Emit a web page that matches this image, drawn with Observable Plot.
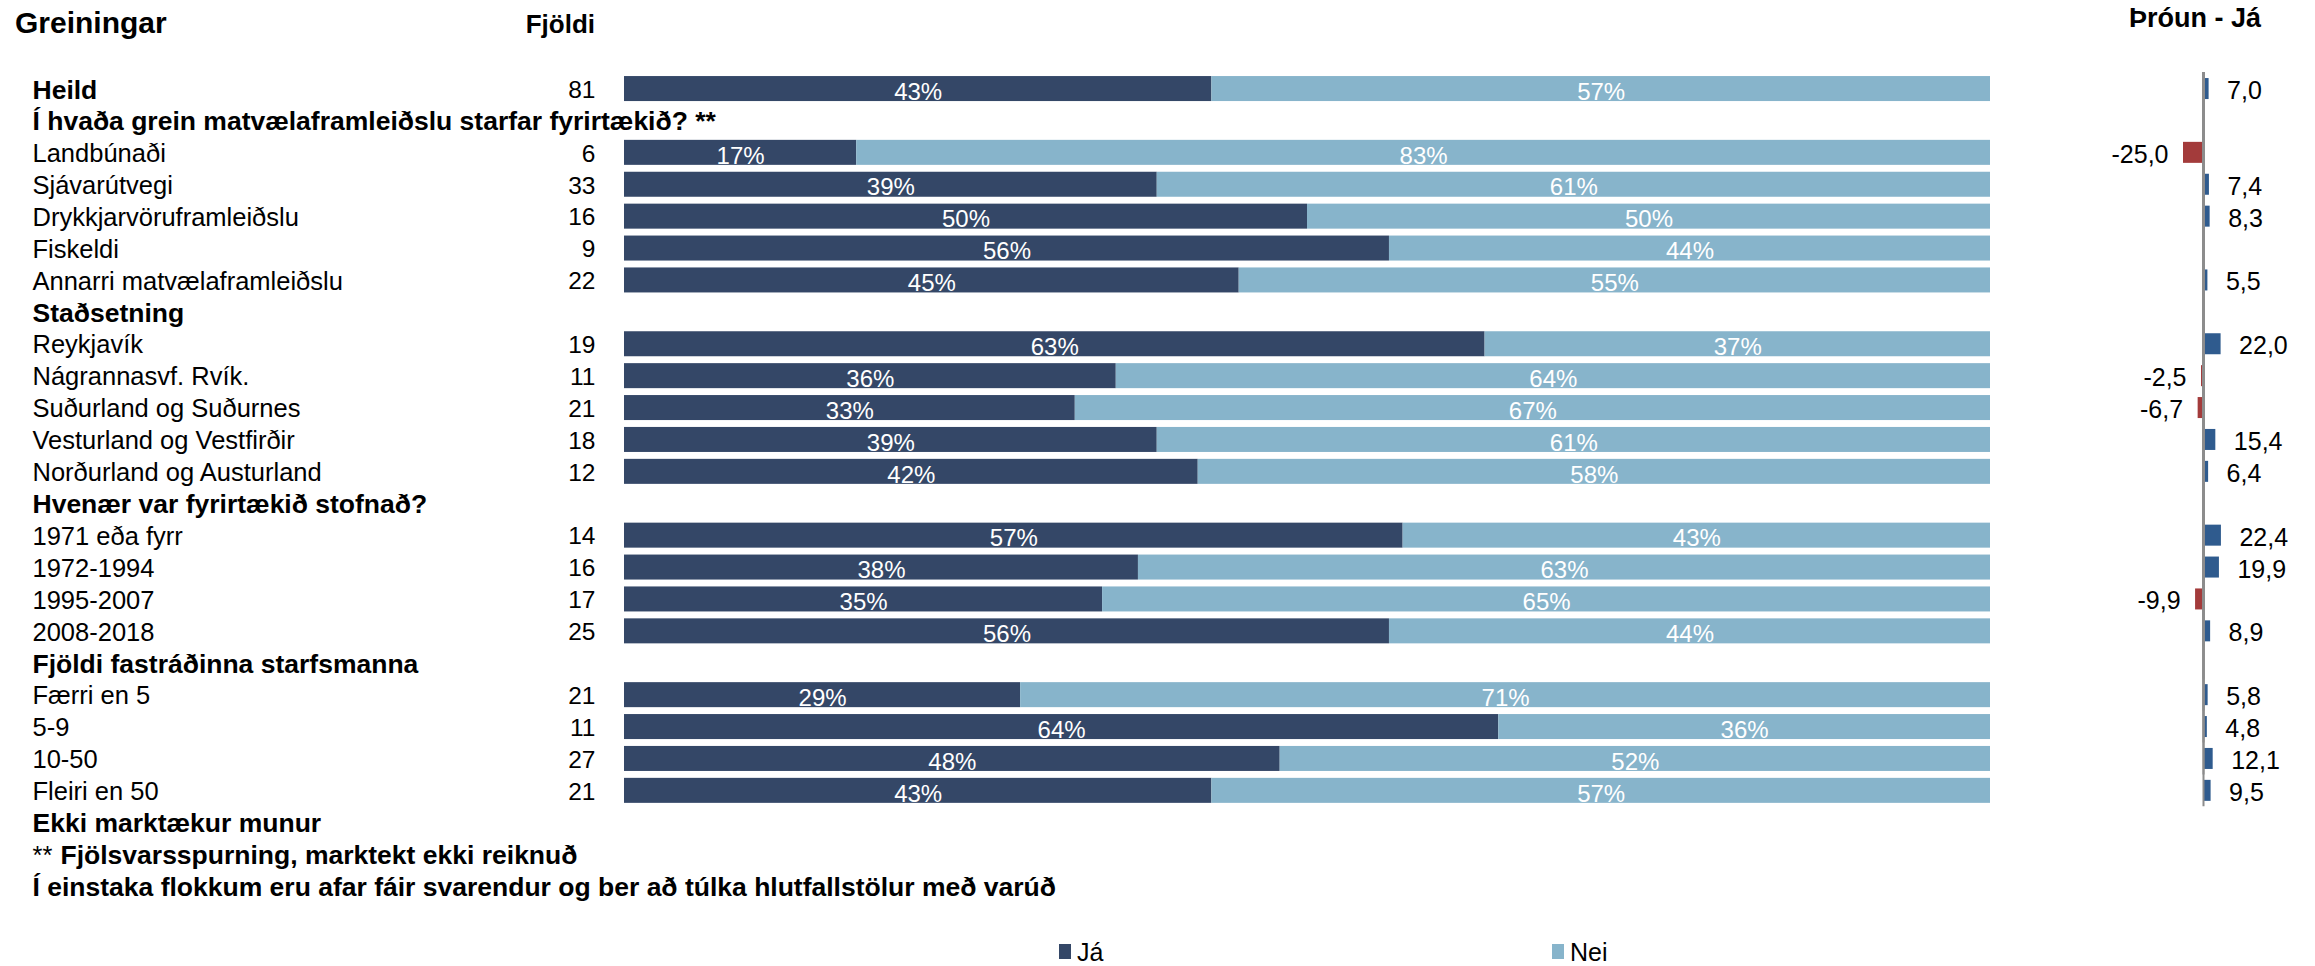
<!DOCTYPE html>
<html>
<head>
<meta charset="utf-8">
<script src="https://cdn.jsdelivr.net/npm/d3@7"></script>
<script src="https://cdn.jsdelivr.net/npm/@observablehq/plot@0.6"></script>
<style>
html,body{margin:0;padding:0;background:#fff;overflow:hidden;}
body{font-family:"Liberation Sans",Arial,Helvetica,sans-serif;color:#000;}
#wrap{width:2315px;height:966px;position:relative;overflow:hidden;}
#head{position:relative;height:45px;}
#head div{position:absolute;font-weight:bold;line-height:1;white-space:nowrap;}
#charts{display:flex;align-items:flex-start;}
#charts svg{max-width:none;flex:none;}
#legend{position:relative;height:59px;}
#legend .sw{position:absolute;width:12px;height:15px;top:37px;}
#legend .lb{position:absolute;top:33px;font-size:25px;line-height:25px;white-space:nowrap;}
</style>
</head>
<body>
<div id="wrap">
  <div id="head"></div>
  <div id="charts"></div>
  <div id="legend"></div>
</div>
<script>
// ---------- data ----------
const titleLeft = "Greiningar";
const titleCount = "Fjöldi";
const titleTrend = "Þróun - Já";

const labels = [
  "Heild",
  "Í hvaða grein matvælaframleiðslu starfar fyrirtækið? **",
  "Landbúnaði",
  "Sjávarútvegi",
  "Drykkjarvöruframleiðslu",
  "Fiskeldi",
  "Annarri matvælaframleiðslu",
  "Staðsetning",
  "Reykjavík",
  "Nágrannasvf. Rvík.",
  "Suðurland og Suðurnes",
  "Vesturland og Vestfirðir",
  "Norðurland og Austurland",
  "Hvenær var fyrirtækið stofnað?",
  "1971 eða fyrr",
  "1972-1994",
  "1995-2007",
  "2008-2018",
  "Fjöldi fastráðinna starfsmanna",
  "Færri en 5",
  "5-9",
  "10-50",
  "Fleiri en 50",
  "Ekki marktækur munur",
  "** Fjölsvarsspurning, marktekt ekki reiknuð",
  "Í einstaka flokkum eru afar fáir svarendur og ber að túlka hlutfallstölur með varúð"
];
const kinds = ["bold","bold","item","item","item","item","item","bold","item","item","item","item","item","bold","item","item","item","item","bold","item","item","item","item","bold","bold","bold"];
const counts = [81,null,6,33,16,9,22,null,19,11,21,18,12,null,14,16,17,25,null,21,11,27,21,null,null,null];
const jaPct  = [43,null,17,39,50,56,45,null,63,36,33,39,42,null,57,38,35,56,null,29,64,48,43,null,null,null];
const neiPct = [57,null,83,61,50,44,55,null,37,64,67,61,58,null,43,63,65,44,null,71,36,52,57,null,null,null];
const trendJa = [7.0,null,-25.0,7.4,8.3,null,5.5,null,22.0,-2.5,-6.7,15.4,6.4,null,22.4,19.9,-9.9,8.9,null,5.8,4.8,12.1,9.5,null,null,null];
const answers = ["Já","Nei"];
const answerColors = ["#344767","#87B4CB"];
const trendSigns = ["pos","neg"];
const trendColors = ["#2F5B8E","#A33B3B"];

// ---------- derived tables ----------
const rows = labels.map((label, i) => ({i, label, kind: kinds[i], count: counts[i], trend: trendJa[i]}));
const stacked = rows.filter(r => jaPct[r.i] != null).flatMap(r => [
  {i: r.i, answer: answers[0], value: jaPct[r.i]},
  {i: r.i, answer: answers[1], value: neiPct[r.i]}
]);
const trendRows = rows.filter(r => r.trend != null);
const axisRows = rows.filter(r => r.i <= 22);
const fmt = v => v.toFixed(1).replace(".", ",");

const FONT = "'Liberation Sans', Arial, Helvetica, sans-serif";
const step = 31.9, mTop = 27.6, mBottom = 5;
const H = mTop + labels.length * step + mBottom;
const yScale = {type: "band", domain: d3.range(labels.length), paddingInner: 0, paddingOuter: 0, round: false, axis: null};
const LABEL_DX = -592;
const FS_ITEM = 25.5, FS_BOLD = 26.5;

const plainRows = rows.filter(r => r.kind === "item");
const boldRows = rows.filter(r => r.kind === "bold" && !r.label.startsWith("** "));
const starRows = rows.filter(r => r.label.startsWith("** "));

const main = Plot.plot({
  width: 2010, height: H,
  marginLeft: 624, marginRight: 20, marginTop: mTop, marginBottom: mBottom,
  x: {domain: [0, 1], axis: null},
  y: yScale,
  color: {domain: answers, range: answerColors},
  style: {fontFamily: FONT, background: "transparent", overflow: "visible"},
  marks: [
    Plot.barX(stacked, Plot.stackX({y: "i", x: "value", fill: "answer", offset: "normalize", insetTop: 3.45, insetBottom: 3.45})),
    Plot.text(stacked, Plot.stackX({y: "i", x: "value", z: "answer", offset: "normalize", text: d => d.value + "%", fill: "white", fontSize: 24, dy: 3})),
    Plot.text(plainRows, {y: "i", text: "label", frameAnchor: "left", textAnchor: "start", dx: LABEL_DX, dy: 1, fontSize: FS_ITEM, fill: "#000"}),
    Plot.text(boldRows, {y: "i", text: "label", frameAnchor: "left", textAnchor: "start", dx: LABEL_DX, dy: 1, fontSize: FS_BOLD, fontWeight: "bold", fill: "#000"}),
    Plot.text(starRows, {y: "i", text: d => "**", frameAnchor: "left", textAnchor: "start", dx: LABEL_DX, dy: 1, fontSize: FS_ITEM, fill: "#000"}),
    Plot.text(starRows, {y: "i", text: d => d.label.slice(3), frameAnchor: "left", textAnchor: "start", dx: LABEL_DX + 28, dy: 1, fontSize: FS_BOLD, fontWeight: "bold", fill: "#000"}),
    Plot.text(rows.filter(r => r.count != null), {y: "i", text: d => String(d.count), frameAnchor: "left", textAnchor: "end", dx: -29, dy: 1, fontSize: 24.5, fill: "#000"})
  ]
});

const trend = Plot.plot({
  width: 305, height: H,
  marginLeft: 161, marginRight: 80, marginTop: mTop, marginBottom: mBottom,
  x: {domain: [-40, 40], axis: null},
  y: yScale,
  color: {domain: trendSigns, range: trendColors},
  style: {fontFamily: FONT, background: "transparent", overflow: "visible"},
  marks: [
    Plot.barX(trendRows, {x: "trend", y: "i", fill: d => d.trend < 0 ? "neg" : "pos", insetTop: 5.45, insetBottom: 5.45}),
    Plot.ruleX(axisRows, {x: () => 0, y: "i", stroke: "#8c8c8c", strokeWidth: 2}),
    Plot.text(trendRows.filter(r => r.trend >= 0), {x: "trend", y: "i", text: d => fmt(d.trend), textAnchor: "start", dx: 18, dy: 2, fontSize: 25, fill: "#000"}),
    Plot.text(trendRows.filter(r => r.trend < 0), {x: "trend", y: "i", text: d => fmt(d.trend), textAnchor: "end", dx: -15, dy: 2, fontSize: 25, fill: "#000"})
  ]
});

document.getElementById("charts").append(main, trend);

// ---------- headers ----------
const head = document.getElementById("head");
function headText(txt, css) {
  const d = document.createElement("div");
  d.textContent = txt;
  Object.assign(d.style, css);
  head.append(d);
}
headText(titleLeft, {left: "15px", top: "8px", fontSize: "30px"});
headText(titleCount, {left: "0px", width: "595px", textAlign: "right", top: "11px", fontSize: "26px"});
headText(titleTrend, {left: "2095px", width: "200px", textAlign: "center", top: "5px", fontSize: "27px"});

// ---------- legend ----------
const legend = document.getElementById("legend");
const legendX = [1059, 1552];
answers.forEach((a, k) => {
  const sw = document.createElement("div");
  sw.className = "sw";
  sw.style.left = legendX[k] + "px";
  sw.style.background = answerColors[k];
  const lb = document.createElement("div");
  lb.className = "lb";
  lb.style.left = (legendX[k] + 18) + "px";
  lb.textContent = a;
  legend.append(sw, lb);
});
</script>
</body>
</html>
